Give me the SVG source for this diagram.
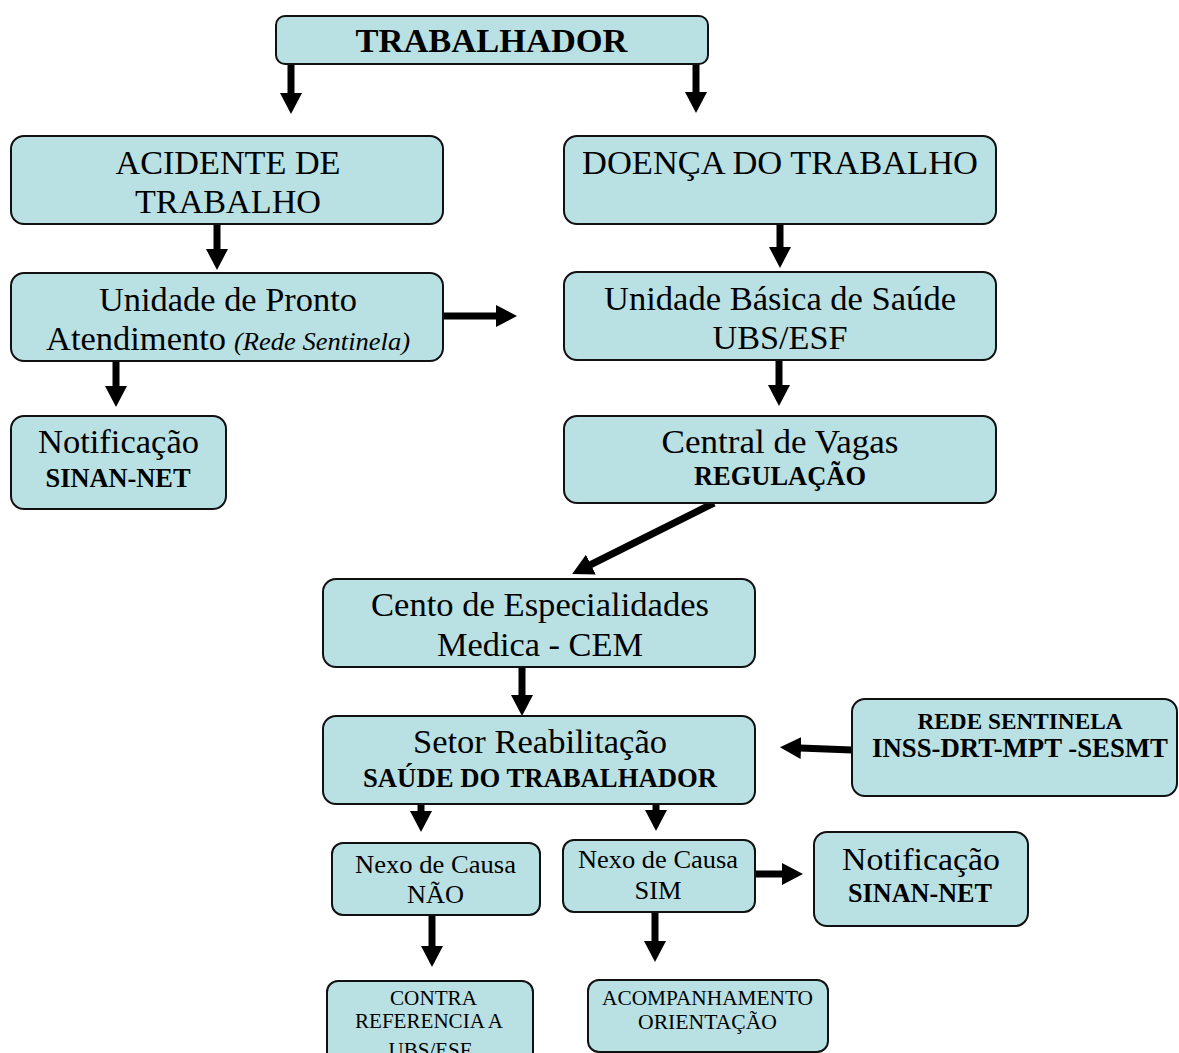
<svg xmlns="http://www.w3.org/2000/svg" width="1179" height="1053" viewBox="0 0 1179 1053">
<style>
.box{fill:#b9e0e3;stroke:#111;stroke-width:2}
text{font-family:"Liberation Serif","Times New Roman",serif;fill:#000;text-anchor:middle}
.r{font-size:34px}
.b{font-weight:bold;font-size:26.5px}
.s{font-size:26px}
.t{font-size:21px}
.c{stroke:#000;stroke-width:7;fill:none;marker-end:url(#ah)}
</style>
<defs>
<marker id="ah" markerUnits="userSpaceOnUse" markerWidth="22" markerHeight="22" viewBox="0 0 22 22" refX="1" refY="11" orient="auto">
<path d="M0,0 L21,11 L0,22 z" fill="#000"/>
</marker>
</defs>
<rect width="1179" height="1053" fill="#fff"/>
<g id="connectors">
<line class="c" x1="291" y1="64" x2="291" y2="94"/>
<line class="c" x1="696" y1="64" x2="696" y2="93"/>
<line class="c" x1="217" y1="224" x2="217" y2="250"/>
<line class="c" x1="780" y1="218" x2="780" y2="248"/>
<line class="c" x1="443" y1="316" x2="497" y2="316"/>
<line class="c" x1="116" y1="357" x2="116" y2="387"/>
<line class="c" x1="779" y1="358" x2="779" y2="386"/>
<line class="c" x1="714" y1="503" x2="590" y2="565"/>
<line class="c" x1="522" y1="667" x2="522" y2="696"/>
<line class="c" x1="421" y1="804" x2="421" y2="812"/>
<line class="c" x1="656" y1="804" x2="656" y2="811"/>
<line class="c" x1="852" y1="750" x2="800" y2="748"/>
<line class="c" x1="754" y1="874" x2="783" y2="874"/>
<line class="c" x1="432" y1="915" x2="432" y2="947"/>
<line class="c" x1="655" y1="912" x2="655" y2="942"/>
</g>
<g id="n_trabalhador">
<rect class="box" x="276" y="16" width="432" height="48" rx="9"/>
<text x="491.5" y="52" font-size="34.5" font-weight="bold" textLength="272" lengthAdjust="spacingAndGlyphs">TRABALHADOR</text>
</g>
<g id="n_acidente">
<rect class="box" x="11" y="136" width="432" height="88" rx="13"/>
<text class="r" x="228" y="174" textLength="225" lengthAdjust="spacingAndGlyphs">ACIDENTE DE</text>
<text class="r" x="228" y="213" textLength="186" lengthAdjust="spacingAndGlyphs">TRABALHO</text>
</g>
<g id="n_doenca">
<rect class="box" x="564" y="136" width="432" height="88" rx="13"/>
<text class="r" x="780" y="174" textLength="396" lengthAdjust="spacingAndGlyphs">DOENÇA DO TRABALHO</text>
</g>
<g id="n_pronto">
<rect class="box" x="11" y="273" width="432" height="88" rx="13"/>
<text class="r" x="228" y="311" textLength="258" lengthAdjust="spacingAndGlyphs">Unidade de Pronto</text>
<text class="r" x="136" y="350" textLength="180" lengthAdjust="spacingAndGlyphs">Atendimento</text>
<text x="322" y="350" font-size="26" font-style="italic" textLength="176" lengthAdjust="spacingAndGlyphs">(Rede Sentinela)</text>
</g>
<g id="n_ubs">
<rect class="box" x="564" y="272" width="432" height="88" rx="13"/>
<text class="r" x="780" y="310" textLength="352" lengthAdjust="spacingAndGlyphs">Unidade Básica de Saúde</text>
<text class="r" x="780" y="349" textLength="135" lengthAdjust="spacingAndGlyphs">UBS/ESF</text>
</g>
<g id="n_notif1">
<rect class="box" x="11" y="416" width="215" height="93" rx="13"/>
<text class="r" x="118.5" y="453" textLength="161" lengthAdjust="spacingAndGlyphs">Notificação</text>
<text class="b" x="118" y="487" textLength="145" lengthAdjust="spacingAndGlyphs">SINAN-NET</text>
</g>
<g id="n_central">
<rect class="box" x="564" y="416" width="432" height="87" rx="13"/>
<text class="r" x="780" y="453" textLength="237" lengthAdjust="spacingAndGlyphs">Central de Vagas</text>
<text class="b" x="780" y="485" textLength="172" lengthAdjust="spacingAndGlyphs">REGULAÇÃO</text>
</g>
<g id="n_cem">
<rect class="box" x="323" y="579" width="432" height="88" rx="13"/>
<text class="r" x="540" y="616" textLength="338" lengthAdjust="spacingAndGlyphs">Cento de Especialidades</text>
<text class="r" x="540" y="656" textLength="206" lengthAdjust="spacingAndGlyphs">Medica - CEM</text>
</g>
<g id="n_setor">
<rect class="box" x="323" y="716" width="432" height="88" rx="13"/>
<text class="r" x="540" y="753" textLength="254" lengthAdjust="spacingAndGlyphs">Setor Reabilitação</text>
<text class="b" x="540" y="787" textLength="354" lengthAdjust="spacingAndGlyphs">SAÚDE DO TRABALHADOR</text>
</g>
<g id="n_rede">
<rect class="box" x="852" y="699" width="325" height="97" rx="13"/>
<text x="1020" y="729" font-size="23.5" font-weight="bold" textLength="205" lengthAdjust="spacingAndGlyphs">REDE SENTINELA</text>
<text class="b" x="1020" y="757" textLength="296" lengthAdjust="spacingAndGlyphs">INSS-DRT-MPT -SESMT</text>
</g>
<g id="n_nexo_nao">
<rect class="box" x="332" y="843" width="208" height="72" rx="11"/>
<text class="s" x="435.5" y="873" textLength="161" lengthAdjust="spacingAndGlyphs">Nexo de Causa</text>
<text class="s" x="435.5" y="903" textLength="57" lengthAdjust="spacingAndGlyphs">NÃO</text>
</g>
<g id="n_nexo_sim">
<rect class="box" x="563" y="840" width="192" height="72" rx="11"/>
<text class="s" x="658" y="868" textLength="160" lengthAdjust="spacingAndGlyphs">Nexo de Causa</text>
<text class="s" x="658" y="899" textLength="47" lengthAdjust="spacingAndGlyphs">SIM</text>
</g>
<g id="n_notif2">
<rect class="box" x="814" y="832" width="214" height="94" rx="13"/>
<text x="921" y="870" font-size="32" textLength="158" lengthAdjust="spacingAndGlyphs">Notificação</text>
<text class="b" x="920" y="902" textLength="144" lengthAdjust="spacingAndGlyphs">SINAN-NET</text>
</g>
<g id="n_contra">
<rect class="box" x="327" y="981" width="206" height="95" rx="11"/>
<text class="t" x="433.5" y="1005" textLength="87" lengthAdjust="spacingAndGlyphs">CONTRA</text>
<text class="t" x="429" y="1028" textLength="148" lengthAdjust="spacingAndGlyphs">REFERENCIA A</text>
<text class="t" x="430" y="1057" textLength="83" lengthAdjust="spacingAndGlyphs">UBS/ESF</text>
</g>
<g id="n_acomp">
<rect class="box" x="588" y="980" width="240" height="72" rx="11"/>
<text class="t" x="707.5" y="1005" textLength="211" lengthAdjust="spacingAndGlyphs">ACOMPANHAMENTO</text>
<text class="t" x="707.5" y="1029" textLength="139" lengthAdjust="spacingAndGlyphs">ORIENTAÇÃO</text>
</g>
</svg>
